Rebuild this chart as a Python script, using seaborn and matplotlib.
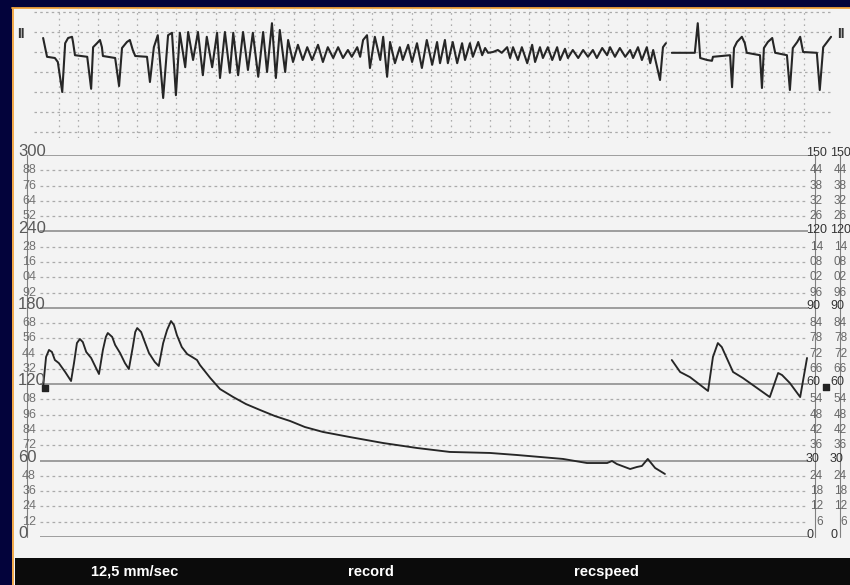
import numpy as np
import matplotlib
matplotlib.use("Agg")
import matplotlib.pyplot as plt
from matplotlib.lines import Line2D
from matplotlib.patches import Rectangle
from matplotlib.ticker import MultipleLocator
import seaborn as sns

# ---------------------------------------------------------------- data
# ECG lead II (time in s, amplitude in mV): sinus beats degenerating into VF
ecg_vf_t = [
    0.88, 0.96, 1.12, 1.18, 1.27, 1.33, 1.39, 1.47, 1.49, 1.53,
    1.78, 1.86, 1.90, 1.98, 2.04, 2.08, 2.10, 2.35, 2.43, 2.49,
    2.59, 2.65, 2.71, 2.76, 3.00, 3.06, 3.14, 3.22, 3.33, 3.43,
    3.51, 3.59, 3.67, 3.78, 3.84, 3.94, 4.04, 4.14, 4.22, 4.33,
    4.43, 4.49, 4.59, 4.69, 4.76, 4.86, 4.96, 5.06, 5.16, 5.27,
    5.37, 5.45, 5.55, 5.63, 5.71, 5.82, 5.88, 5.98, 6.08, 6.18,
    6.27, 6.37, 6.49, 6.59, 6.69, 6.80, 6.90, 7.00, 7.10, 7.18,
    7.29, 7.35, 7.41, 7.49, 7.55, 7.65, 7.76, 7.82, 7.90, 7.96,
    8.06, 8.16, 8.22, 8.33, 8.41, 8.51, 8.61, 8.71, 8.82, 8.92,
    8.98, 9.08, 9.14, 9.24, 9.33, 9.43, 9.49, 9.59, 9.65, 9.76,
    9.84, 9.90, 9.96, 10.06, 10.16, 10.24, 10.35, 10.41, 10.47, 10.57,
    10.65, 10.76, 10.86, 10.92, 11.02, 11.08, 11.18, 11.27, 11.37, 11.43,
    11.53, 11.59, 11.69, 11.80, 11.90, 12.00, 12.10, 12.18, 12.29, 12.39,
    12.45, 12.55, 12.65, 12.76, 12.86, 12.92, 13.02, 13.10, 13.20, 13.27,
    13.33, 13.41, 13.47, 13.53, 13.59,
]
ecg_vf_mv = [
    0.35, -0.12, -0.15, -0.25, -1.00, 0.22, 0.35, 0.38, 0.25, -0.08,
    -0.12, -0.92, 0.12, 0.22, 0.30, 0.12, -0.10, -0.15, -0.85, 0.10,
    0.25, 0.30, 0.05, -0.10, -0.12, -0.75, 0.12, 0.42, -1.15, 0.42,
    0.48, -1.08, 0.48, -0.38, 0.50, -0.20, 0.50, -0.58, 0.38, -0.38,
    0.48, -0.65, 0.50, -0.52, 0.48, -0.58, 0.50, -0.45, 0.48, -0.62,
    0.50, -0.50, 0.72, -0.65, 0.55, -0.50, 0.30, -0.25, 0.18, -0.20,
    0.12, -0.20, 0.18, -0.25, 0.12, -0.15, 0.12, -0.15, 0.05, -0.12,
    0.12, -0.12, 0.30, 0.42, -0.40, 0.38, -0.20, 0.38, -0.62, 0.25,
    -0.28, 0.12, -0.20, 0.18, -0.25, 0.22, -0.40, 0.30, -0.32, 0.25,
    -0.28, 0.30, -0.28, 0.25, -0.28, 0.22, -0.20, 0.22, -0.12, 0.25,
    -0.08, 0.10, -0.02, 0.00, 0.05, -0.02, 0.12, -0.15, 0.12, -0.20,
    0.12, -0.28, 0.18, -0.25, 0.12, -0.15, 0.12, -0.20, 0.12, -0.20,
    0.08, -0.15, 0.05, -0.15, 0.05, -0.12, 0.05, -0.15, 0.10, -0.08,
    0.12, -0.12, 0.10, -0.12, 0.05, -0.15, 0.12, -0.20, 0.12, -0.28,
    0.05, -0.38, -0.70, 0.12, 0.22,
]
# ECG after defibrillation: return of sinus rhythm
ecg_sinus_t = [
    13.71, 14.18, 14.24, 14.29, 14.43, 14.53, 14.55, 14.90, 14.94, 14.98,
    15.04, 15.14, 15.20, 15.24, 15.51, 15.55, 15.59, 15.67, 15.76, 15.78,
    15.82, 16.06, 16.12, 16.18, 16.27, 16.33, 16.39, 16.67, 16.73, 16.80,
    16.88, 16.96,
]
ecg_sinus_mv = [
    -0.02, -0.02, 0.72, -0.15, -0.20, -0.22, -0.12, -0.08, -0.88, 0.10,
    0.25, 0.38, 0.22, -0.02, -0.08, -0.90, 0.10, 0.25, 0.35, 0.22,
    -0.02, -0.08, -0.95, 0.10, 0.25, 0.38, 0.00, -0.02, -0.95, 0.12,
    0.25, 0.38,
]

# Arterial pressure (time in s, mmHg) before and after the shock
pressure_pre_t = [
    0.88, 0.94, 1.00, 1.06, 1.12, 1.20, 1.33, 1.45,
    1.51, 1.57, 1.63, 1.69, 1.76, 1.86, 1.96, 2.02,
    2.10, 2.16, 2.20, 2.29, 2.35, 2.45, 2.55, 2.63,
    2.71, 2.76, 2.80, 2.88, 2.94, 3.04, 3.16, 3.24,
    3.33, 3.41, 3.49, 3.55, 3.61, 3.71, 3.82, 3.92, 4.02, 4.08,
    4.29, 4.49, 4.76, 5.02, 5.31, 5.61, 5.92, 6.22, 6.59, 7.14,
    7.82, 8.51, 9.18, 10.00, 10.55, 11.49, 11.98, 12.39, 12.49, 12.59,
    12.86, 13.00, 13.10, 13.22, 13.37, 13.57,
]
pressure_pre_mmhg = [
    117.8, 141.4, 146.9, 145.3, 139.0, 136.6, 129.6, 122.5,
    136.6, 152.3, 155.5, 153.1, 145.3, 140.6, 132.7, 128.0,
    146.9, 157.1, 160.2, 157.1, 150.8, 144.5, 136.6, 131.9,
    149.2, 161.0, 164.1, 161.0, 154.7, 144.5, 137.4, 134.3,
    152.3, 162.6, 169.6, 166.5, 158.6, 149.2, 143.7, 141.4, 139.0, 135.1,
    124.9, 116.2, 109.9, 104.4, 99.7, 95.0, 91.1, 86.4, 82.5, 78.5,
    73.8, 69.9, 66.8, 66.0, 64.4, 61.3, 58.1, 58.1, 59.7, 57.3,
    53.4, 55.0, 55.8, 61.3, 54.2, 49.5,
]
pressure_post_t = [
    13.71, 13.88, 14.08, 14.45, 14.55, 14.65, 14.73, 14.96, 15.16, 15.71,
    15.88, 15.96, 16.12, 16.33, 16.47,
]
pressure_post_mmhg = [
    139.0, 129.6, 125.6, 114.7, 141.4, 152.3, 149.2, 129.6, 124.9, 109.9,
    128.8, 127.2, 120.9, 109.9, 140.6,
]
# reference markers on the pressure channel
marker_t = [0.92, 16.86]
marker_mmhg = [117.0, 118.0]

# scales
left_scale = list(range(0, 301, 12))      # mmHg, 300 range
right_scale = list(range(0, 151, 6))      # mmHg, 150 range
ecg_rows_mv = [-2.0, -1.5, -1.0, -0.5, 0.0, 0.5, 1.0]
ecg_cols_s = [round(0.4 * k, 1) for k in range(3, 42)]
lead_name = "II"
footer_labels = ["12,5 mm/sec", "record", "recspeed"]

# ---------------------------------------------------------------- style
sns.set_theme(style="white")
FONT = ["Liberation Sans Narrow", "Liberation Sans", "DejaVu Sans"]
plt.rcParams["font.family"] = FONT

W, H = 850, 585
fig = plt.figure(figsize=(W / 100, H / 100), dpi=100)
fig.patch.set_facecolor("#03033b")


def fx(px):
    return px / W


def fy(py):
    return 1 - py / H


# recording paper, orange frame and footer bar
fig.patches.append(Rectangle((fx(12), 0), 1 - fx(12), fy(8),
                             transform=fig.transFigure, facecolor="#f3f3f3",
                             edgecolor="none", zorder=-3))
fig.add_artist(Line2D([fx(12.5), fx(12.5)], [0, fy(8)], color="#f0a23a",
                      lw=1.3, zorder=-2))
fig.add_artist(Line2D([fx(12), 1], [fy(8.4), fy(8.4)], color="#f0a23a",
                      lw=1.3, zorder=-2))
fig.patches.append(Rectangle((fx(15), 0), 1 - fx(15), 27 / H,
                             transform=fig.transFigure, facecolor="#0b0b0b",
                             edgecolor="none", zorder=-1))
for label, cx in zip(footer_labels, [135, 371, 606]):
    fig.text(fx(cx), fy(572), label, color="white", ha="center", va="center",
             fontsize=10.5, fontweight="bold", family=FONT)

TRACE = "#262626"
GRID = "#ababab"
trace_kw = dict(sort=False, estimator=None, zorder=3,
                solid_joinstyle="round", solid_capstyle="round")

# ---------------------------------------------------------------- ECG strip
ax_e = fig.add_axes([fx(12), fy(138), 1 - fx(12), (138 - 8) / H])
ax_e.set_facecolor("none")
ax_e.set_xlim(12 / 49, 850 / 49)
ax_e.set_ylim(-2.15, 1.1)
ax_e.hlines(ecg_rows_mv, 0.70, 17.0, color=GRID, lw=0.9,
            linestyles=(0, (2.0, 2.6)), zorder=1)
ax_e.vlines(ecg_cols_s, -2.15, 1.1, color=GRID, lw=0.9,
            linestyles=(0, (1.3, 3.2)), zorder=1)
sns.lineplot(x=ecg_vf_t, y=ecg_vf_mv, ax=ax_e, color=TRACE, lw=1.5,
             **trace_kw)
sns.lineplot(x=ecg_sinus_t, y=ecg_sinus_mv, ax=ax_e, color=TRACE, lw=1.5,
             **trace_kw)
ax_e.text(0.0107, 0.80, lead_name, transform=ax_e.transAxes, ha="center",
          va="center", fontsize=10, fontweight="bold", color="#333333")
ax_e.text(0.989, 0.80, lead_name, transform=ax_e.transAxes, ha="center",
          va="center", fontsize=10, fontweight="bold", color="#333333")
ax_e.set_xticks([])
ax_e.set_yticks([])
for s in ax_e.spines.values():
    s.set_visible(False)

# ---------------------------------------------------------------- pressure
ax_p = fig.add_axes([fx(40), fy(537), fx(808) - fx(40), (537 - 155) / H])
ax_p.set_facecolor("none")
ax_p.set_xlim(40 / 49, 808 / 49)
ax_p.set_ylim(0, 300)
ax_p.yaxis.set_major_locator(MultipleLocator(60))
ax_p.yaxis.set_minor_locator(MultipleLocator(12))
ax_p.grid(which="major", axis="y", color="#8f8f8f", lw=1.2, ls="-")
ax_p.grid(which="minor", axis="y", color=GRID, lw=0.9, ls=(0, (2.2, 2.6)))
ax_p.grid(which="both", axis="x", visible=False)
ax_p.tick_params(which="both", length=0, labelleft=False, labelbottom=False)
ax_p.set_xticks([])
for s in ax_p.spines.values():
    s.set_visible(False)

sns.lineplot(x=pressure_pre_t, y=pressure_pre_mmhg, ax=ax_p, color=TRACE,
             lw=1.35, **trace_kw)
sns.lineplot(x=pressure_post_t, y=pressure_post_mmhg, ax=ax_p, color=TRACE,
             lw=1.35, **trace_kw)
ax_p.scatter(marker_t, marker_mmhg, s=14, marker="s", color="#222222",
             zorder=4, clip_on=False)

ytr = ax_p.get_yaxis_transform()


def short(v):
    return f"{v % 100:02d}" if v >= 100 else str(v)


for v in left_scale:
    if v % 60 == 0:
        ax_p.text(-0.0286, v - 1, str(v), transform=ytr, ha="left",
                  va="baseline", fontsize=12, color="#595959", clip_on=False)
    else:
        ax_p.text(-0.0052, v, short(v), transform=ytr, ha="right",
                  va="center", fontsize=9, color="#727272", clip_on=False)

ax_r = ax_p.twinx()
ax_r.set_ylim(0, 150)
ax_r.set_yticks([])
for s in ax_r.spines.values():
    s.set_visible(False)
rtr = ax_r.get_yaxis_transform()
for col_major, col_minor in [(0.9974, 1.0195), (1.0287, 1.0508)]:
    for v in right_scale:
        if v % 30 == 0:
            ax_r.text(col_major, v - 0.5, str(v), transform=rtr, ha="left",
                      va="baseline", fontsize=9, color="#333333",
                      clip_on=False)
        else:
            ax_r.text(col_minor, v, short(v), transform=rtr, ha="right",
                      va="center", fontsize=8.5, color="#666666",
                      clip_on=False)

for xf in [-0.0169, 1.0091, 1.0417]:
    ax_p.plot([xf, xf], [0, 300], transform=ytr, color="#808080", lw=0.8,
              clip_on=False, zorder=2)

fig.savefig("out.png", dpi=100, facecolor=fig.get_facecolor())
